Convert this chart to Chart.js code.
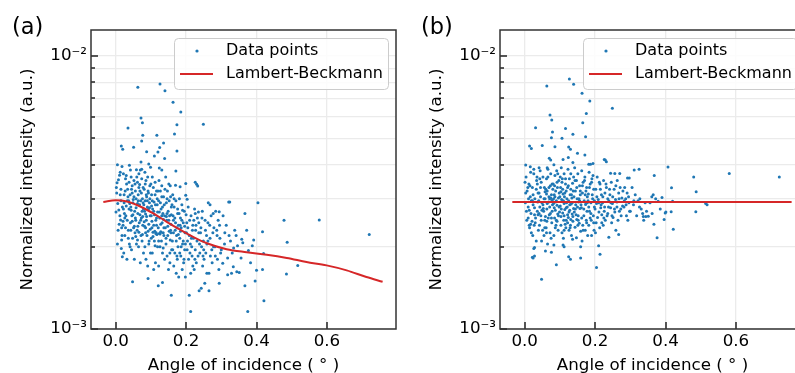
<!DOCTYPE html>
<html>
<head>
<meta charset="utf-8">
<script src="https://cdn.jsdelivr.net/npm/chart.js@4.4.1/dist/chart.umd.min.js"></script>
<style>
  html, body { margin: 0; padding: 0; background: #fff; overflow: hidden; }
  #wrap { position: relative; width: 795px; height: 373px; overflow: hidden; }
  canvas { position: absolute; top: 0; }
  #chartA { left: 0; }
  #chartB { left: 409px; }
</style>
</head>
<body>
<div id="wrap">
  <canvas id="chartA" width="400" height="373"></canvas>
  <canvas id="chartB" width="400" height="373"></canvas>
</div>
<script>
// intensities are in units of 1e-3 (a.u.), angles in degrees

// panel (a): raw data points [angle, intensity]
var pointsA = [
  [0.063,7.68],[0.126,7.89],[0.140,7.46],[0.163,6.77],[0.185,6.23],[0.072,5.93],[0.076,5.70],[0.174,5.60],
  [0.249,5.62],[0.035,5.45],[0.077,5.13],[0.117,5.12],[0.167,5.18],[0.074,4.88],[0.136,4.80],[0.016,4.68],
  [0.020,4.55],[0.051,4.63],[0.125,4.62],[0.088,4.46],[0.174,4.49],[0.120,4.45],[0.110,4.30],[0.139,4.21],
  [0.072,4.09],[0.005,4.00],[0.018,3.94],[0.039,3.98],[0.094,4.02],[0.099,3.91],[0.059,3.83],[0.124,3.89],
  [0.131,3.82],[0.171,3.79],[0.070,3.82],[0.042,3.82],[0.226,3.45],[0.230,3.39],[0.233,3.34],[0.199,3.41],
  [0.183,3.32],[0.155,3.35],[0.170,3.36],[0.199,3.09],[0.203,2.99],
  [0.321,2.92],[0.324,2.92],[0.404,2.90],[0.367,2.65],[0.478,2.50],[0.578,2.51],[0.720,2.22],[0.417,2.27],
  [0.487,2.08],[0.358,2.13],[0.361,2.07],[0.388,2.02],[0.377,1.94],[0.420,1.89],[0.517,1.71],[0.485,1.59],
  [0.400,1.64],[0.417,1.65],[0.396,1.50],[0.367,1.44],[0.421,1.27],[0.375,1.16],[0.213,1.16],[0.209,1.33],
  [0.158,1.33],[0.121,1.44],[0.133,1.48],[0.048,1.49],[0.092,1.53],[0.265,1.38],[0.237,1.38],[0.243,1.41],
  [0.253,1.47],[0.294,1.47],[0.318,1.58],[0.329,1.60],[0.344,1.62],[0.351,1.61],[0.304,1.74],[0.334,1.69],
  [0.268,2.85],[0.294,2.69],[0.277,2.65],[0.235,2.68],[0.226,2.65],
  [0.004,3.43],[0.011,3.66],[0.013,3.10],[0.006,2.88],[0.009,2.73],[0.014,2.51],[0.007,2.30],[0.017,2.12],
  [0.019,1.84],[0.016,1.97],[0.002,3.30],[0.012,2.60],[0.018,2.20],[0.008,3.52],[0.015,2.95],
  [0.022,3.70],[0.031,3.40],[0.027,3.20],[0.035,3.05],[0.024,2.90],[0.038,2.75],[0.029,2.60],[0.033,2.50],
  [0.021,2.40],[0.036,2.30],[0.026,2.20],[0.039,2.05],[0.023,1.90],[0.032,1.80],[0.028,3.55],[0.037,2.95],
  [0.025,2.65],[0.034,3.25],[0.030,2.82],[0.021,2.48],
  [0.044,3.60],[0.052,3.50],[0.047,3.35],[0.056,3.20],[0.041,3.10],[0.058,3.00],[0.049,2.90],[0.043,2.80],
  [0.054,2.70],[0.046,2.60],[0.057,2.50],[0.042,2.45],[0.051,2.35],[0.055,2.25],[0.048,2.15],[0.059,2.05],
  [0.045,1.95],[0.053,1.80],[0.050,2.98],[0.044,2.72],[0.056,2.55],[0.047,3.15],[0.053,2.38],
  [0.066,3.70],[0.074,3.55],[0.062,3.45],[0.078,3.30],[0.069,3.20],[0.064,3.10],[0.076,3.00],[0.071,2.95],
  [0.068,2.85],[0.079,2.75],[0.063,2.65],[0.073,2.55],[0.067,2.45],[0.077,2.40],[0.061,2.30],[0.072,2.20],
  [0.075,2.10],[0.065,2.00],[0.079,1.90],[0.070,1.75],[0.068,3.38],[0.075,2.70],[0.062,2.88],[0.077,2.58],
  [0.066,2.26],
  [0.083,3.75],[0.091,3.60],[0.086,3.50],[0.097,3.35],[0.081,3.25],[0.093,3.15],[0.088,3.05],[0.084,2.95],
  [0.096,2.90],[0.090,2.80],[0.082,2.70],[0.098,2.60],[0.087,2.50],[0.094,2.42],[0.085,2.35],[0.092,2.28],
  [0.089,2.20],[0.095,2.10],[0.083,2.00],[0.099,1.90],[0.086,1.80],[0.091,1.70],[0.097,3.00],[0.085,2.64],
  [0.093,2.75],[0.081,2.47],
  [0.104,3.60],[0.112,3.45],[0.107,3.30],[0.116,3.20],[0.102,3.10],[0.118,3.00],[0.109,2.92],[0.113,2.85],
  [0.105,2.75],[0.119,2.68],[0.101,2.60],[0.114,2.50],[0.108,2.40],[0.103,2.35],[0.111,2.28],[0.115,2.25],
  [0.117,2.22],[0.106,2.18],[0.110,2.10],[0.119,2.00],[0.104,1.90],[0.113,1.75],[0.108,1.65],[0.116,2.55],
  [0.102,2.82],
  [0.123,3.50],[0.131,3.35],[0.127,3.20],[0.136,3.05],[0.122,2.95],[0.138,2.85],[0.129,2.75],[0.134,2.65],
  [0.125,2.55],[0.132,2.45],[0.121,2.35],[0.128,2.27],[0.135,2.25],[0.124,2.24],[0.137,2.20],[0.130,2.10],
  [0.126,2.00],[0.133,1.90],[0.139,1.80],[0.122,1.70],[0.136,2.52],[0.127,2.90],[0.131,2.60],
  [0.142,3.60],[0.151,3.40],[0.147,3.20],[0.156,3.05],[0.144,2.90],[0.158,2.80],[0.149,2.70],[0.153,2.60],
  [0.145,2.50],[0.157,2.42],[0.141,2.35],[0.152,2.28],[0.148,2.20],[0.155,2.12],[0.143,2.05],[0.159,1.95],
  [0.146,1.85],[0.154,1.75],[0.150,1.65],[0.157,2.25],[0.146,2.65],
  [0.162,3.10],[0.171,2.95],[0.166,2.80],[0.176,2.65],[0.164,2.50],[0.178,2.40],[0.169,2.30],[0.173,2.20],
  [0.161,2.10],[0.177,2.00],[0.168,1.90],[0.175,1.80],[0.165,1.70],[0.172,1.60],[0.179,1.55],[0.163,2.60],
  [0.174,2.35],
  [0.181,3.00],[0.188,2.85],[0.195,2.70],[0.184,2.55],[0.192,2.45],[0.186,2.35],[0.197,2.25],[0.182,2.15],
  [0.190,2.05],[0.196,1.95],[0.185,1.85],[0.193,1.75],[0.189,1.65],[0.198,1.55],[0.183,2.40],
  [0.206,2.80],[0.214,2.60],[0.202,2.45],[0.218,2.30],[0.209,2.20],[0.204,2.10],[0.216,2.00],[0.211,1.90],
  [0.207,1.80],[0.219,1.70],[0.213,1.60],[0.201,2.25],
  [0.224,2.75],[0.232,2.55],[0.228,2.40],[0.236,2.25],[0.221,2.15],[0.238,2.05],[0.226,1.95],[0.234,1.85],
  [0.229,1.75],[0.223,1.65],
  [0.246,2.70],[0.254,2.50],[0.242,2.35],[0.258,2.20],[0.249,2.10],[0.244,2.00],[0.256,1.90],[0.251,1.80],
  [0.247,1.70],[0.259,1.60],
  [0.263,2.90],[0.271,2.60],[0.267,2.40],[0.276,2.25],[0.262,2.10],[0.278,2.00],[0.269,1.85],[0.274,1.75],
  [0.265,1.60],
  [0.284,2.70],[0.291,2.50],[0.287,2.30],[0.296,2.15],[0.282,2.00],[0.298,1.90],[0.289,1.80],[0.293,1.65],
  [0.305,2.60],[0.314,2.40],[0.322,2.20],[0.309,2.05],[0.331,1.90],[0.318,1.82],[0.338,2.30],
  [0.346,2.02],[0.372,2.30],[0.356,1.82],[0.392,2.12],[0.383,1.75],
  [0.003,3.15],[0.010,2.42],[0.015,3.25],[0.005,2.05],[0.019,2.80],[0.001,2.68],[0.013,3.75],[0.017,2.35],
  [0.024,3.10],[0.028,2.35],[0.033,2.95],[0.038,3.45],[0.022,2.75],[0.036,2.15],[0.030,3.65],[0.026,2.55],
  [0.040,2.88],[0.045,3.25],[0.049,2.62],[0.043,2.30],[0.052,3.05],[0.058,2.78],[0.047,2.48],[0.055,3.40],
  [0.041,2.00],[0.057,2.18],[0.060,3.60],[0.064,2.95],[0.069,2.62],[0.063,2.38],[0.073,3.15],[0.078,2.90],
  [0.071,2.50],[0.066,3.30],[0.076,2.22],[0.062,2.12],[0.074,3.85],[0.080,2.85],[0.084,3.40],[0.088,2.58],
  [0.092,3.20],[0.096,2.78],[0.082,2.38],[0.098,2.32],[0.087,3.10],[0.094,2.05],[0.090,2.95],[0.085,2.25],
  [0.100,3.40],[0.104,2.95],[0.108,2.70],[0.112,3.10],[0.116,2.40],[0.103,2.48],[0.110,2.62],[0.118,2.85],
  [0.106,2.26],[0.114,2.24],[0.112,2.02],[0.101,2.15],[0.120,3.20],[0.124,2.68],[0.128,2.42],[0.133,2.80],
  [0.137,2.35],[0.122,2.10],[0.131,3.05],[0.126,2.23],[0.135,1.98],[0.139,2.60],[0.129,2.26],[0.140,3.25],
  [0.144,2.58],[0.148,2.38],[0.152,2.95],[0.156,2.30],[0.143,2.15],[0.151,2.50],[0.158,2.62],[0.146,3.00],
  [0.154,1.90],[0.160,2.85],[0.164,2.25],[0.168,2.55],[0.172,2.10],[0.176,2.75],[0.162,1.95],[0.170,2.45],
  [0.178,2.22],[0.166,3.00],[0.174,1.85],[0.180,2.65],[0.184,2.28],[0.188,2.50],[0.192,2.10],[0.196,2.38],
  [0.182,1.90],[0.190,2.72],[0.198,2.05],[0.186,2.00],[0.194,1.80],[0.200,2.62],[0.205,2.35],[0.210,2.50],
  [0.215,2.15],[0.219,2.40],[0.203,1.95],[0.212,2.05],[0.217,1.85],[0.222,2.50],[0.227,2.30],[0.231,2.10],
  [0.236,2.45],[0.239,1.90],[0.225,1.80],[0.241,2.25],[0.245,2.55],[0.250,1.95],[0.255,2.30],[0.259,2.05],
  [0.248,1.85],[0.262,2.45],[0.268,2.15],[0.273,1.95],[0.279,2.35],[0.283,1.85],[0.288,2.20],[0.295,2.40],
  [0.300,1.95],[0.310,2.25],[0.326,2.10],[0.335,1.98],[0.342,2.20]
];

// panel (b): normalized data points [angle, intensity]
var pointsB = [
  [0.723,3.60],[0.581,3.71],[0.480,3.60],[0.487,3.18],[0.518,2.85],[0.514,2.88],[0.486,2.69],[0.407,3.92],
  [0.368,3.65],[0.417,3.29],[0.420,2.94],[0.422,2.32],[0.376,2.16],[0.399,2.66],[0.401,2.68],[0.367,2.42],
  [0.361,3.05],[0.365,3.10],[0.390,3.03],[0.379,2.94],[0.362,2.65],[0.416,2.69],[0.396,2.52],
  [0.337,2.58],[0.344,2.58],[0.351,2.59],[0.325,3.85],[0.311,3.82],[0.292,3.57],[0.297,3.57],
  [0.244,3.72],[0.256,3.71],[0.270,3.71],[0.229,4.16],[0.232,4.10],[0.226,4.18],[0.194,4.04],[0.187,4.01],
  [0.182,4.01],[0.249,6.43],[0.163,7.30],[0.185,6.84],[0.127,8.24],[0.139,7.88],[0.063,7.76],[0.175,6.15],
  [0.072,6.08],[0.077,5.83],[0.165,5.70],[0.031,5.46],[0.116,5.42],[0.079,5.27],[0.137,5.17],[0.173,5.06],
  [0.076,5.02],[0.106,5.00],[0.014,4.68],[0.019,4.58],[0.050,4.70],[0.086,4.65],[0.125,4.64],[0.130,4.55],
  [0.171,4.34],[0.150,4.40],[0.070,4.22],[0.074,4.16],[0.109,4.18],[0.124,4.25],[0.137,4.07],[0.003,3.99],
  [0.016,3.93],[0.041,3.90],[0.064,3.90],
  [0.048,1.52],[0.090,1.72],[0.125,1.84],[0.130,1.80],[0.159,1.82],[0.204,1.68],[0.214,1.88],[0.024,1.82],
  [0.022,1.83],[0.028,1.85],[0.059,1.93],[0.076,1.91],[0.026,1.97],[0.028,1.99],[0.083,2.03],[0.109,2.03],
  [0.112,2.00],[0.136,2.13],[0.147,2.16],[0.159,2.00],[0.210,2.02],[0.239,2.17],[0.267,2.22],
  [0.004,3.60],[0.012,3.40],[0.007,3.20],[0.016,3.05],[0.002,2.90],[0.010,2.80],[0.018,2.65],[0.006,2.50],
  [0.014,2.35],[0.019,2.25],[0.009,3.30],[0.013,2.72],[0.017,2.42],[0.011,3.00],
  [0.026,3.70],[0.034,3.50],[0.022,3.30],[0.038,3.15],[0.029,3.00],[0.024,2.85],[0.036,2.70],[0.031,2.55],
  [0.027,2.40],[0.039,2.30],[0.023,2.20],[0.033,2.10],[0.035,3.60],[0.028,2.62],[0.037,2.92],[0.021,2.48],
  [0.044,3.80],[0.052,3.60],[0.047,3.45],[0.056,3.30],[0.041,3.15],[0.058,3.00],[0.049,2.90],[0.043,2.80],
  [0.054,2.70],[0.046,2.60],[0.057,2.50],[0.042,2.40],[0.051,2.30],[0.055,2.20],[0.048,2.10],[0.053,2.76],
  [0.045,3.05],[0.059,2.58],
  [0.066,3.85],[0.074,3.70],[0.062,3.55],[0.078,3.40],[0.069,3.30],[0.064,3.20],[0.076,3.10],[0.071,3.00],
  [0.068,2.92],[0.079,2.85],[0.063,2.75],[0.073,2.65],[0.067,2.55],[0.077,2.45],[0.061,2.35],[0.072,2.25],
  [0.075,2.15],[0.065,2.05],[0.070,2.62],[0.078,2.96],[0.062,3.12],
  [0.083,4.00],[0.091,3.80],[0.086,3.65],[0.097,3.50],[0.081,3.40],[0.093,3.30],[0.088,3.20],[0.084,3.10],
  [0.096,3.02],[0.090,2.95],[0.082,2.88],[0.098,2.80],[0.087,2.72],[0.094,2.64],[0.085,2.55],[0.092,2.48],
  [0.089,2.40],[0.095,2.30],[0.083,2.20],[0.099,2.68],[0.086,3.05],[0.092,2.84],
  [0.104,3.90],[0.112,3.70],[0.107,3.55],[0.116,3.40],[0.102,3.30],[0.118,3.20],[0.109,3.12],[0.113,3.05],
  [0.105,2.98],[0.119,2.90],[0.101,2.82],[0.114,2.74],[0.108,2.66],[0.103,2.58],[0.111,2.50],[0.115,2.42],
  [0.117,2.35],[0.106,2.25],[0.110,2.15],[0.118,2.78],[0.103,3.18],[0.112,2.60],
  [0.123,3.85],[0.131,3.70],[0.127,3.55],[0.136,3.42],[0.122,3.30],[0.138,3.20],[0.129,3.10],[0.134,3.02],
  [0.125,2.95],[0.132,2.87],[0.121,2.80],[0.128,2.72],[0.135,2.64],[0.124,2.56],[0.137,2.48],[0.130,2.40],
  [0.126,2.30],[0.133,2.20],[0.139,2.76],[0.122,2.62],[0.131,2.52],
  [0.142,3.90],[0.151,3.70],[0.147,3.50],[0.156,3.35],[0.144,3.20],[0.158,3.10],[0.149,3.00],[0.153,2.92],
  [0.145,2.85],[0.157,2.76],[0.141,2.68],[0.152,2.60],[0.148,2.52],[0.155,2.44],[0.143,2.36],[0.159,2.28],
  [0.150,2.80],
  [0.162,3.80],[0.171,3.60],[0.166,3.45],[0.176,3.30],[0.164,3.15],[0.178,3.05],[0.169,2.95],[0.173,2.86],
  [0.161,2.78],[0.177,2.70],[0.168,2.60],[0.175,2.50],[0.165,2.40],[0.172,2.30],[0.179,2.20],[0.163,2.10],
  [0.174,2.90],
  [0.183,3.75],[0.191,3.55],[0.186,3.40],[0.196,3.25],[0.181,3.12],[0.193,3.00],[0.188,2.90],[0.198,2.80],
  [0.184,2.70],[0.195,2.60],[0.189,2.50],[0.182,2.40],[0.197,2.30],[0.190,2.20],
  [0.206,3.60],[0.214,3.40],[0.202,3.25],[0.218,3.10],[0.209,2.98],[0.204,2.88],[0.216,2.78],[0.211,2.68],
  [0.207,2.56],[0.219,2.45],[0.213,2.35],[0.201,2.25],
  [0.224,3.50],[0.232,3.30],[0.228,3.15],[0.236,3.00],[0.221,2.90],[0.238,2.80],[0.226,2.70],[0.234,2.60],
  [0.229,2.50],[0.223,2.40],
  [0.246,3.45],[0.254,3.25],[0.242,3.10],[0.258,2.98],[0.249,2.88],[0.244,2.78],[0.256,2.68],[0.251,2.56],
  [0.247,2.45],[0.259,2.30],
  [0.263,3.50],[0.271,3.30],[0.267,3.15],[0.276,3.02],[0.262,2.92],[0.278,2.82],[0.269,2.70],[0.274,2.60],
  [0.265,2.50],
  [0.284,3.30],[0.291,3.15],[0.287,3.00],[0.296,2.90],[0.282,2.80],[0.298,2.70],[0.289,2.60],[0.293,2.50],
  [0.305,3.30],[0.314,3.10],[0.322,2.95],[0.309,2.85],[0.331,2.75],[0.318,2.60],[0.338,2.50],[0.327,3.00],
  [0.346,2.70],[0.356,2.90],[0.372,3.00],[0.385,2.75],
  [0.003,3.15],[0.010,2.55],[0.015,3.35],[0.005,2.70],[0.019,2.95],[0.001,3.45],[0.013,2.40],[0.017,3.75],
  [0.024,3.10],[0.028,2.78],[0.033,3.25],[0.038,2.62],[0.022,2.95],[0.036,3.40],[0.030,2.45],[0.026,3.85],
  [0.040,2.95],[0.045,3.30],[0.049,2.72],[0.043,3.55],[0.052,2.85],[0.058,3.18],[0.047,2.50],[0.055,3.00],
  [0.041,2.65],[0.057,2.35],[0.060,3.25],[0.064,2.88],[0.069,3.05],[0.063,2.48],[0.073,3.35],[0.078,2.70],
  [0.071,2.80],[0.066,3.60],[0.076,2.55],[0.062,2.25],[0.074,3.02],[0.080,3.25],[0.084,2.78],[0.088,2.92],
  [0.092,3.45],[0.096,2.60],[0.082,3.00],[0.098,3.15],[0.087,2.35],[0.094,3.70],[0.090,2.50],[0.085,3.35],
  [0.100,3.05],[0.104,2.75],[0.108,3.25],[0.112,2.88],[0.116,3.55],[0.103,2.40],[0.110,2.95],[0.118,2.50],
  [0.106,3.45],[0.114,3.15],[0.112,2.30],[0.101,3.60],[0.120,3.00],[0.124,3.35],[0.128,2.85],[0.133,3.10],
  [0.137,2.58],[0.122,2.45],[0.131,3.25],[0.126,2.68],[0.135,2.90],[0.139,3.60],[0.129,2.35],[0.140,3.05],
  [0.144,2.75],[0.148,3.30],[0.152,2.50],[0.156,2.95],[0.143,3.50],[0.151,2.40],[0.158,3.20],[0.146,2.62],
  [0.154,3.00],[0.160,2.85],[0.164,3.35],[0.168,2.75],[0.172,3.10],[0.176,2.45],[0.162,2.55],[0.170,3.50],
  [0.178,2.90],[0.166,2.30],[0.174,3.20],[0.180,2.95],[0.184,3.30],[0.188,2.65],[0.192,3.10],[0.196,2.45],
  [0.182,2.80],[0.190,3.45],[0.198,2.95],[0.186,2.55],[0.194,3.65],[0.200,2.75],[0.205,3.05],[0.210,2.90],
  [0.215,3.25],[0.219,2.62],[0.203,2.45],[0.212,3.45],[0.217,2.85],[0.222,3.05],[0.227,2.80],[0.231,3.40],
  [0.236,2.65],[0.239,2.95],[0.225,2.55],[0.241,3.25],[0.245,2.90],[0.250,3.05],[0.255,2.75],[0.259,3.35],
  [0.248,2.60],[0.262,2.80],[0.268,3.00],[0.273,2.75],[0.279,3.20],[0.283,2.95],[0.288,2.85],[0.295,3.05],
  [0.300,2.70],[0.310,2.95],[0.326,2.80],[0.335,2.65],[0.342,2.90]
];

// Lambert-Beckmann fit curves
var fitAngleA = [-0.035, 0.000, 0.032, 0.070, 0.107, 0.145, 0.183, 0.221, 0.259, 0.315, 0.372, 0.429, 0.486, 0.542, 0.599, 0.656, 0.712, 0.758];
var fitValueA = [2.92, 2.96, 2.93, 2.81, 2.65, 2.47, 2.31, 2.17, 2.06, 1.96, 1.91, 1.87, 1.82, 1.76, 1.71, 1.64, 1.55, 1.49];
var fitAngleB = [-0.035, 0.758];
var fitValueB = [2.92, 2.92];

var xTicks = [0.0, 0.2, 0.4, 0.6];
var yTicks = [0.001, 0.002, 0.003, 0.004, 0.005, 0.006, 0.007, 0.008, 0.009, 0.01];
var yLabels = { '0.001': '10\u207B\u00B3', '0.01': '10\u207B\u00B2' };

var blue = '#1f77b4';
var red = '#d62728';
var ink = '#000000';
var fontFamily = '"DejaVu Sans", sans-serif';

Chart.defaults.font.family = fontFamily;
Chart.defaults.color = ink;

// frame, inward ticks, legend and panel letter (matplotlib look)
var decorations = {
  id: 'decorations',
  afterDraw: function(chart, args, opts) {
    var ctx = chart.ctx;
    var a = chart.chartArea;
    var x = chart.scales.x, y = chart.scales.y;
    ctx.save();

    // inward tick marks
    ctx.strokeStyle = '#222';
    ctx.lineWidth = 1.5;
    ctx.beginPath();
    xTicks.forEach(function(v) {
      var px = Math.round(x.getPixelForValue(v));
      ctx.moveTo(px, a.bottom);
      ctx.lineTo(px, a.bottom - 7);
    });
    yTicks.forEach(function(v) {
      var py = Math.round(y.getPixelForValue(v));
      var len = (v === 0.001 || v === 0.01) ? 7 : 4;
      ctx.moveTo(a.left, py);
      ctx.lineTo(a.left + len, py);
    });
    ctx.stroke();

    // frame
    ctx.strokeStyle = '#333333';
    ctx.lineWidth = 1.5;
    ctx.strokeRect(a.left, a.top, a.right - a.left, a.bottom - a.top);

    // legend box
    var bx = a.left + 83, by = 38, bw = 214, bh = 51;
    ctx.fillStyle = 'rgba(255,255,255,0.85)';
    ctx.strokeStyle = '#cccccc';
    ctx.lineWidth = 1;
    ctx.beginPath();
    ctx.roundRect(bx + 0.5, by + 0.5, bw, bh, 4);
    ctx.fill();
    ctx.stroke();

    ctx.fillStyle = blue;
    ctx.beginPath();
    ctx.arc(bx + 23, by + 13, 1.6, 0, Math.PI * 2);
    ctx.fill();

    ctx.strokeStyle = red;
    ctx.lineWidth = 2;
    ctx.beginPath();
    ctx.moveTo(bx + 6, by + 36);
    ctx.lineTo(bx + 39, by + 36);
    ctx.stroke();

    ctx.fillStyle = ink;
    ctx.font = '16px ' + fontFamily;
    ctx.textBaseline = 'middle';
    ctx.textAlign = 'left';
    ctx.fillText(opts.names[0], bx + 52, by + 13);
    ctx.fillText(opts.names[1], bx + 52, by + 36);

    // panel letter
    ctx.font = '22.5px ' + fontFamily;
    ctx.textBaseline = 'alphabetic';
    ctx.fillText(opts.letter, 12, 34);

    ctx.restore();
  }
};

function makeChart(id, points, fitX, fitY, letter) {
  var scatterData = points.map(function(p) { return { x: p[0], y: p[1] * 1e-3 }; });
  var fitData = fitX.map(function(v, i) { return { x: v, y: fitY[i] * 1e-3 }; });
  var tickFont = { size: 16.7, family: fontFamily };

  return new Chart(document.getElementById(id).getContext('2d'), {
    type: 'scatter',
    data: {
      datasets: [
        {
          label: 'Lambert-Beckmann',
          data: fitData,
          showLine: true,
          borderColor: red,
          borderWidth: 2,
          pointRadius: 0,
          cubicInterpolationMode: 'monotone',
          fill: false
        },
        {
          label: 'Data points',
          data: scatterData,
          backgroundColor: blue,
          borderWidth: 0,
          pointRadius: 1.5,
          pointHoverRadius: 1.5
        }
      ]
    },
    options: {
      responsive: false,
      animation: false,
      layout: { padding: { top: 30, right: 4, left: 0, bottom: 0 } },
      scales: {
        x: {
          type: 'linear',
          min: -0.07,
          max: 0.796,
          afterBuildTicks: function(s) { s.ticks = xTicks.map(function(v) { return { value: v }; }); },
          afterFit: function(s) { s.height = 44; },
          grid: { color: '#ebebeb', lineWidth: 1.3, drawTicks: false, tickLength: 0 },
          border: { display: false },
          ticks: {
            color: ink,
            font: tickFont,
            padding: 3,
            autoSkip: false,
            maxRotation: 0,
            callback: function(v) { return Number(v).toFixed(1); }
          },
          title: {
            display: true,
            text: 'Angle of incidence ( \u00B0 )',
            color: ink,
            font: tickFont,
            padding: { top: 0, bottom: -3 }
          }
        },
        y: {
          type: 'logarithmic',
          min: 0.001,
          max: 0.01245,
          afterBuildTicks: function(s) { s.ticks = yTicks.map(function(v) { return { value: v }; }); },
          afterFit: function(s) { s.width = 91; },
          grid: { color: '#ebebeb', lineWidth: 1.3, drawTicks: false, tickLength: 0 },
          border: { display: false },
          ticks: {
            color: ink,
            font: tickFont,
            padding: 4,
            autoSkip: false,
            callback: function(v) { return yLabels[String(v)] || ''; }
          },
          title: {
            display: true,
            text: 'Normalized intensity (a.u.)',
            color: ink,
            font: tickFont,
            padding: { top: 18, bottom: 0 }
          }
        }
      },
      plugins: {
        legend: { display: false },
        tooltip: { enabled: false },
        decorations: { names: ['Data points', 'Lambert-Beckmann'], letter: letter }
      }
    },
    plugins: [decorations]
  });
}

makeChart('chartA', pointsA, fitAngleA, fitValueA, '(a)');
makeChart('chartB', pointsB, fitAngleB, fitValueB, '(b)');
</script>
</body>
</html>
